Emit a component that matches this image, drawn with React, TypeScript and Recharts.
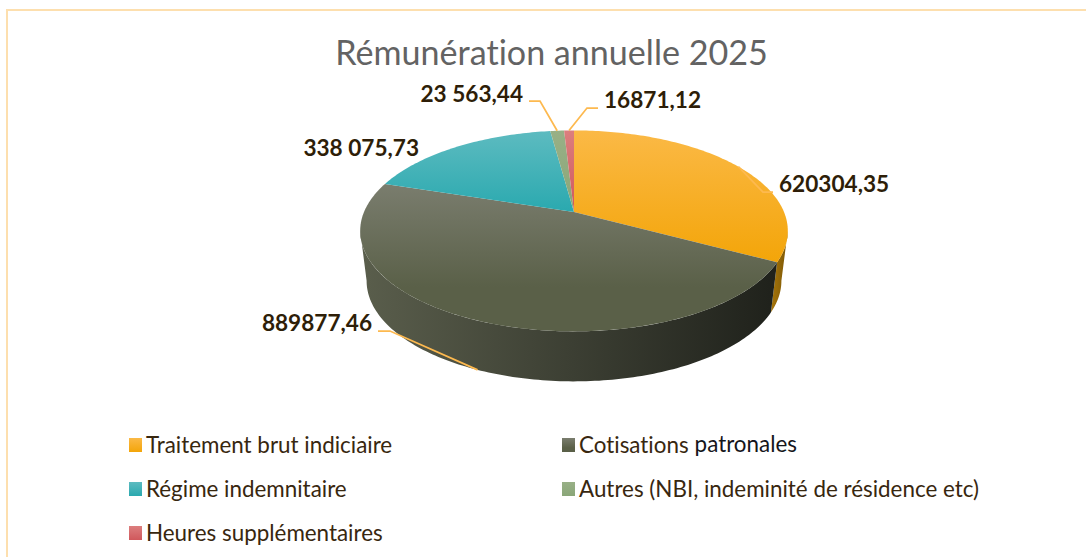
import { PieChart, Pie, Legend } from 'recharts'

const categories = [
  'Traitement brut indiciaire',
  'Cotisations patronales',
  'Régime indemnitaire',
  'Autres (NBI, indeminité de résidence etc)',
  'Heures supplémentaires',
]
const values = [620304.35, 889877.46, 338075.73, 23563.44, 16871.12]
const valueLabels = ['620304,35', '889877,46', '338 075,73', '23 563,44', '16871,12']
const topFrom = ['#FBB946', '#7A7D6E', '#5DBBC0', '#98B086', '#DC7E7E']
const topTo = ['#F3A509', '#5A6048', '#2AA9AF', '#8AA678', '#D0585C']
const topEnd = ['100%', '70%', '100%', '100%', '100%']
const wallFrom = ['#A8760A', '#5A5E4C', '#1E7F84', '#6A8258', '#9C3E42']
const wallTo = ['#7A5606', '#1F211B', '#1A6F74', '#5A7048', '#8A3438']

const FONT = 'Lato, sans-serif'
const INK = '#2E1E08'
const LEADER = '#FDB94F'
const WIDTH = 1086
const HEIGHT = 557

// the disc is a circle seen in perspective: PERSPECTIVE shrinks the far side
const SQUASH = 0.4616
const PERSPECTIVE = 0.188
const DEPTH = 50
const WALL_NARROW = 0.97
// clock angles where the rim turns away, past them the wall is hidden
const WALL_FIRST = 100.8
const WALL_LAST = 259.2

const tableTop = categories.map((name, i) => ({ name, value: values[i], fill: `url(#top${i})` }))
const tableWall = categories.map((name, i) => ({ name, value: values[i], fill: `url(#wall${i})` }))

function rim(cx: number, cy: number, r: number, clockDeg: number, narrow = 1, drop = 0) {
  const t = (clockDeg * Math.PI) / 180
  const u = Math.sin(t)
  const v = Math.cos(t)
  const w = 1 + PERSPECTIVE * v
  return [cx + (narrow * r * u) / w, cy + drop - (r * SQUASH * v) / w]
}

function arc(cx: number, cy: number, r: number, from: number, to: number, narrow = 1, drop = 0) {
  const pts: number[][] = []
  const steps = Math.max(2, Math.ceil(Math.abs(to - from)))
  for (let i = 0; i <= steps; i++) {
    pts.push(rim(cx, cy, r, from + ((to - from) * i) / steps, narrow, drop))
  }
  return pts
}

const toPath = (pts: number[][]) =>
  pts.map((p, i) => `${i ? 'L' : 'M'}${p[0].toFixed(2)} ${p[1].toFixed(2)}`).join(' ') + ' Z'

function TopSlice(props: any) {
  const { cx, cy, outerRadius, startAngle, endAngle, fill } = props
  const pts = [[cx, cy], ...arc(cx, cy, outerRadius, 90 - startAngle, 90 - endAngle)]
  return <path d={toPath(pts)} fill={fill} stroke="none" />
}

function WallSlice(props: any) {
  const { cx, cy, outerRadius, startAngle, endAngle, fill } = props
  const from = Math.max(90 - startAngle, WALL_FIRST)
  const to = Math.min(90 - endAngle, WALL_LAST)
  if (from >= to) return null
  const pts = [
    ...arc(cx, cy, outerRadius, from, to),
    ...arc(cx, cy, outerRadius, to, from, WALL_NARROW, DEPTH),
  ]
  return <path d={toPath(pts)} fill={fill} stroke="none" />
}

// where each value label sits, and the elbow of its leader line
const LABEL_LAYOUT = [
  { x: 779, y: 192, anchor: 'start', elbow: [[763, 192], [773, 192]], wall: false },
  { x: 372, y: 331, anchor: 'end', elbow: [[390, 331], [378, 331]], wall: true },
  { x: 419, y: 156, anchor: 'end', elbow: null, wall: false },
  { x: 523, y: 102, anchor: 'end', elbow: [[540, 101], [529, 101]], wall: false },
  { x: 604, y: 108, anchor: 'start', elbow: [[587, 108], [598, 108]], wall: false },
]

function ValueLabel(props: any) {
  const { cx, cy, outerRadius, midAngle, index } = props
  const layout = LABEL_LAYOUT[index]
  const start = layout.wall
    ? rim(cx, cy, outerRadius, 90 - midAngle, WALL_NARROW, DEPTH)
    : rim(cx, cy, outerRadius, 90 - midAngle)
  return (
    <g>
      {layout.elbow && (
        <polyline
          points={[start, ...layout.elbow].map((p) => p.join(',')).join(' ')}
          fill="none"
          stroke={LEADER}
          strokeWidth={1.75}
        />
      )}
      <text
        x={layout.x}
        y={layout.y}
        textAnchor={layout.anchor as any}
        fontFamily={FONT}
        fontWeight={700}
        fontSize={22.6}
        fill={INK}
      >
        {valueLabels[index]}
      </text>
    </g>
  )
}

function LegendBox() {
  return (
    <div
      style={{
        display: 'grid',
        gridTemplateColumns: '433px auto',
        gridAutoRows: '44px',
        fontFamily: FONT,
        fontSize: 22.4,
        fontVariantLigatures: 'none',
        color: '#38270F',
        lineHeight: '44px',
      }}
    >
      {categories.map((name, i) => {
        const words = i === 1 ? name.split(' ') : [name]
        return (
          <div key={name} style={{ display: 'flex', alignItems: 'center', whiteSpace: 'nowrap' }}>
            <svg width={13} height={14} style={{ marginRight: 4 }}>
              <rect width={13} height={14} fill={`url(#top${i})`} />
            </svg>
            <span>{words[0]}</span>
            {words[1] && (
              <span style={{ color: '#15151b', marginLeft: 6, position: 'relative', top: -1 }}>{words[1]}</span>
            )}
          </div>
        )
      })}
    </div>
  )
}

export default function App() {
  return (
    <div style={{ position: 'absolute', left: 0, top: 0, width: WIDTH, height: HEIGHT, background: '#fff', overflow: 'hidden' }}>
      <div
        style={{
          position: 'absolute',
          left: 6,
          top: 9,
          width: WIDTH,
          height: HEIGHT,
          borderLeft: '2px solid #FDDFAE',
          borderTop: '2px solid #FDDFAE',
        }}
      />
      <div style={{ position: 'absolute', left: 0, top: 0 }}>
        <PieChart width={WIDTH} height={HEIGHT} margin={{ top: 0, right: 0, bottom: 0, left: 0 }}>
          <defs>
            {categories.map((_, i) => (
              <linearGradient key={`t${i}`} id={`top${i}`} x1="0" y1="0" x2="0" y2="1">
                <stop offset="0%" stopColor={topFrom[i]} />
                <stop offset={topEnd[i]} stopColor={topTo[i]} />
              </linearGradient>
            ))}
            {categories.map((_, i) => (
              <linearGradient key={`w${i}`} id={`wall${i}`} x1="0" y1="0" x2="1" y2="0">
                <stop offset="0%" stopColor={wallFrom[i]} />
                <stop offset="100%" stopColor={wallTo[i]} />
              </linearGradient>
            ))}
          </defs>
          <text
            x={551.5}
            y={65}
            textAnchor="middle"
            fontFamily={FONT}
            fontSize={34.1}
            fill="#636363"
            style={{ fontVariantLigatures: 'none' }}
          >
            Rémunération annuelle 2025
          </text>
          <Pie
            data={tableWall}
            dataKey="value"
            nameKey="name"
            cx={574}
            cy={212}
            outerRadius={210}
            startAngle={90}
            endAngle={-270}
            stroke="none"
            legendType="none"
            shape={WallSlice}
            isAnimationActive={false}
          />
          <Pie
            data={tableTop}
            dataKey="value"
            nameKey="name"
            cx={574}
            cy={212}
            outerRadius={210}
            startAngle={90}
            endAngle={-270}
            stroke="none"
            shape={TopSlice}
            label={ValueLabel}
            labelLine={false}
            isAnimationActive={false}
          />
          <Legend
            content={<LegendBox />}
            wrapperStyle={{ position: 'absolute', left: 129, top: 423, width: 800, bottom: 'auto' }}
          />
        </PieChart>
      </div>
    </div>
  )
}
